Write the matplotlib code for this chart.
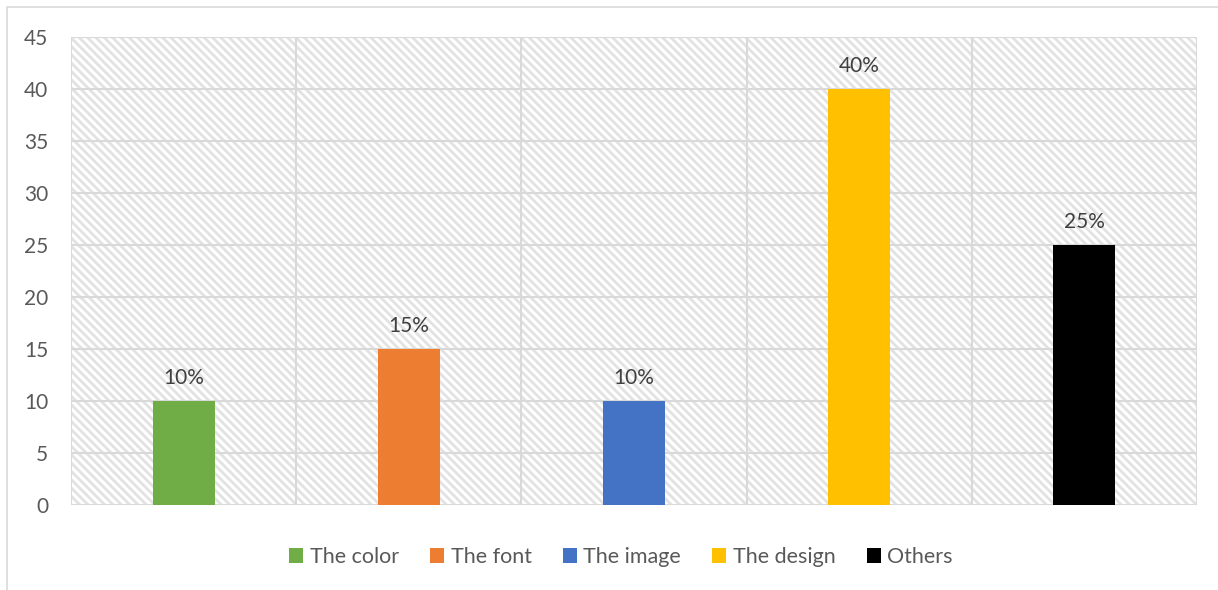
import matplotlib.pyplot as plt
from matplotlib.patches import Rectangle, Patch

categories = ["The color", "The font", "The image", "The design", "Others"]
values = [10, 15, 10, 40, 25]
colors = ["#70ad47", "#ed7d31", "#4472c4", "#ffc000", "#000000"]
yticks = [0, 5, 10, 15, 20, 25, 30, 35, 40, 45]

plt.rcParams["font.family"] = ["Lato", "DejaVu Sans"]
plt.rcParams["hatch.linewidth"] = 2.0
plt.rcParams["hatch.color"] = "#e2e2e2"

grid_c = "#d9d9d9"
text_c = "#595959"
fs = 15

fig = plt.figure(figsize=(12.18, 5.90), dpi=100)
ax = fig.add_axes([71 / 1218, 1 - 505 / 590, 1126 / 1218, 468 / 590])

# chart frame
fig.patches.append(Rectangle((7 / 1218, -0.01), 1.02, 1 - 7 / 590 + 0.01,
                             transform=fig.transFigure, fill=False,
                             edgecolor=grid_c, linewidth=1.2))

# hatched plot area background
ax.add_patch(Rectangle((0, 0), 1, 1, transform=ax.transAxes, facecolor="white",
                       hatch="\\\\\\\\", edgecolor="#e2e2e2", linewidth=0, zorder=0))

n = len(categories)
x = list(range(n))
ax.set_xlim(-0.5, n - 0.5)
ax.set_ylim(0, 45)

for b in [i - 0.5 for i in range(n + 1)]:
    ax.axvline(b, color=grid_c, linewidth=1.5, zorder=1)
for t in yticks:
    ax.axhline(t, color=grid_c, linewidth=1.5, zorder=1)

bars = ax.bar(x, values, width=0.275, color=colors, zorder=3)
for xi, v in zip(x, values):
    ax.annotate(f"{v}%", (xi, v), xytext=(0, 9), textcoords="offset points",
                ha="center", va="bottom", fontsize=fs, color="#404040")

ax.set_yticks(yticks)
ax.set_yticklabels([str(t) for t in yticks], fontsize=fs, color=text_c)
ax.set_xticks([])
ax.tick_params(axis="y", length=0, pad=16.5)
for s in ax.spines.values():
    s.set_visible(False)

handles = [Patch(facecolor=c, edgecolor="none") for c in colors]
fig.legend(handles, categories, loc="center", bbox_to_anchor=(621 / 1218, 1 - 557 / 590),
           ncol=n, frameon=False, fontsize=15.5, labelcolor=text_c,
           handlelength=0.65, handleheight=0.65, handletextpad=0.3,
           columnspacing=1.45)

fig.savefig("out.png", dpi=100)
